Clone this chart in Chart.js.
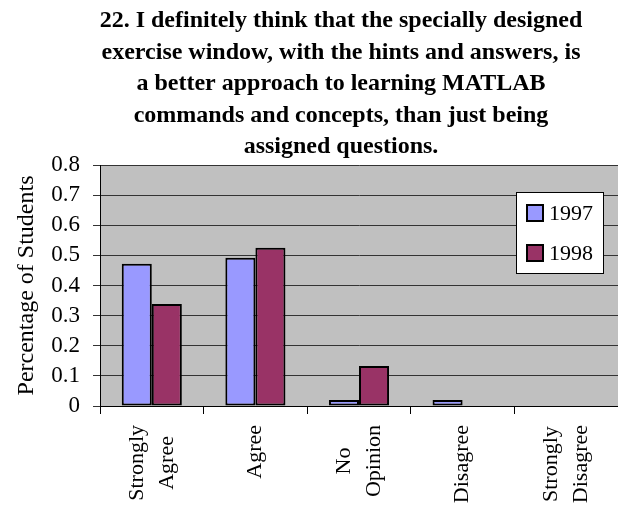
<!DOCTYPE html>
<html lang="en">
<head>
    <meta charset="UTF-8">
    <title>Survey question 22</title>
    <script src="https://cdn.jsdelivr.net/npm/chart.js@4.4.1/dist/chart.umd.min.js"></script>
    <style>
        html, body { margin: 0; padding: 0; overflow: hidden; background: #fff; }
    </style>
</head>
<body>
    <canvas id="myChart" width="618" height="508"></canvas>
    <script>
        // data
        var categories = [['Strongly', 'Agree'], ['Agree'], ['No', 'Opinion'], ['Disagree'], ['Strongly', 'Disagree']];
        var years = ['1997', '1998'];
        var values1997 = [0.472, 0.492, 0.02, 0.02, 0];
        var values1998 = [0.339, 0.525, 0.133, 0, 0];
        var titleLines = [
            '22. I definitely think that the specially designed',
            'exercise window, with the hints and answers, is',
            'a better approach to learning MATLAB',
            'commands and concepts, than just being',
            'assigned questions.'
        ];

        var serif = "'Liberation Serif', 'Times New Roman', serif";

        // grey plot background
        var plotBg = {
            id: 'plotBg',
            beforeDraw: function (chart) {
                var c = chart.ctx, a = chart.chartArea;
                c.save();
                c.fillStyle = '#fff';
                c.fillRect(0, 0, chart.width, chart.height);
                c.fillStyle = '#c0c0c0';
                c.fillRect(a.left, a.top, a.right - a.left, a.bottom - a.top);
                c.restore();
            }
        };

        // multi line title
        var bigTitle = {
            id: 'bigTitle',
            afterDraw: function (chart) {
                var c = chart.ctx;
                c.save();
                c.font = 'bold 24px ' + serif;
                c.fillStyle = '#000';
                c.textAlign = 'center';
                c.textBaseline = 'alphabetic';
                titleLines.forEach(function (line, i) {
                    c.fillText(line, 341, 27 + i * 31.5);
                });
                c.restore();
            }
        };

        // category labels turned 90 degrees, lines centred on each other
        var sideLabels = {
            id: 'sideLabels',
            afterDraw: function (chart) {
                var c = chart.ctx, xs = chart.scales.x;
                c.save();
                c.font = '22px ' + serif;
                c.fillStyle = '#000';
                c.textAlign = 'center';
                c.textBaseline = 'middle';
                categories.forEach(function (lines, i) {
                    var cx = xs.getPixelForValue(i);
                    var maxW = 0;
                    lines.forEach(function (l) { maxW = Math.max(maxW, c.measureText(l).width); });
                    var cy = xs.top + 19 + maxW / 2;
                    lines.forEach(function (l, j) {
                        c.save();
                        c.translate(cx + (j - (lines.length - 1) / 2) * 30, cy);
                        c.rotate(-Math.PI / 2);
                        c.fillText(l, 0, 0);
                        c.restore();
                    });
                });
                c.restore();
            }
        };

        // boxed legend inside the plot, top right
        var boxLegend = {
            id: 'boxLegend',
            afterDraw: function (chart) {
                var c = chart.ctx, a = chart.chartArea;
                var x = a.right - 102, y = a.top + 27, w = 87, h = 81;
                c.save();
                c.fillStyle = '#fff';
                c.fillRect(x, y, w, h);
                c.strokeStyle = '#000';
                c.lineWidth = 1;
                c.strokeRect(x + 0.5, y + 0.5, w, h);
                c.font = '22px ' + serif;
                c.textBaseline = 'middle';
                chart.data.datasets.forEach(function (ds, i) {
                    var cy = y + 21 + i * 40;
                    c.fillStyle = ds.backgroundColor;
                    c.fillRect(x + 11, cy - 8, 16, 16);
                    c.lineWidth = 2;
                    c.strokeRect(x + 11, cy - 8, 16, 16);
                    c.fillStyle = '#000';
                    c.fillText(ds.label, x + 33, cy + 1);
                });
                c.restore();
            }
        };

        var ctx = document.getElementById('myChart').getContext('2d');
        var myChart = new Chart(ctx, {
            type: 'bar',
            data: {
                labels: categories.map(function (l) { return l.join(' '); }),
                datasets: [{
                    label: years[0],
                    data: values1997,
                    backgroundColor: '#9999ff',
                    borderColor: '#000',
                    borderWidth: 2,
                    borderSkipped: false
                }, {
                    label: years[1],
                    data: values1998,
                    backgroundColor: '#993366',
                    borderColor: '#000',
                    borderWidth: 2,
                    borderSkipped: false
                }]
            },
            options: {
                responsive: false,
                animation: false,
                layout: { padding: { top: 165, right: 0, left: 0, bottom: 0 } },
                datasets: { bar: { barPercentage: 1, categoryPercentage: 0.58 } },
                plugins: {
                    legend: { display: false },
                    tooltip: { enabled: false }
                },
                scales: {
                    x: {
                        afterFit: function (s) { s.height = 102; s.paddingLeft = 0; s.paddingRight = 0; },
                        grid: { drawOnChartArea: false, color: '#000', tickLength: 8 },
                        border: { color: '#000', width: 1 },
                        ticks: { display: false }
                    },
                    y: {
                        min: 0,
                        max: 0.8,
                        afterFit: function (s) { s.width = 100; },
                        grid: { color: '#333', tickLength: 7 },
                        border: { color: '#000', width: 1 },
                        ticks: {
                            stepSize: 0.1,
                            autoSkip: false,
                            color: '#000',
                            padding: 13,
                            font: { family: serif, size: 23 }
                        },
                        title: {
                            display: true,
                            text: 'Percentage of Students',
                            color: '#000',
                            font: { family: serif, size: 24 },
                            padding: { top: 12, bottom: 0 }
                        }
                    }
                }
            },
            plugins: [plotBg, bigTitle, sideLabels, boxLegend]
        });
    </script>
</body>
</html>
